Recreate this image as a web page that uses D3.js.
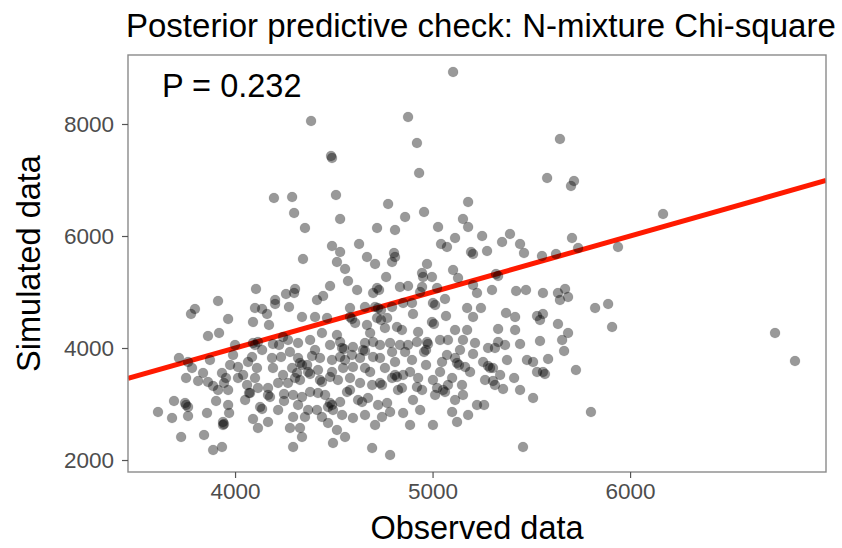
<!DOCTYPE html>
<html>
<head>
<meta charset="utf-8">
<script src="https://d3js.org/d3.v7.min.js"></script>
<style>
  body { margin: 0; background: #fff; }
  text { font-family: "Liberation Sans", Arial, sans-serif; }
</style>
</head>
<body>
<div id="chart"></div>
<script>

// [observed, simulated] chi-square per posterior draw
var points = [
  [5104,8929],[4385,8054],[4876,8125],[4486,7429],[4491,7393],[4921,7661],[4932,7125],[4511,6732],[5645,7732],[5580,7036],
  [5716,6982],[5701,6893],[4197,6679],[4289,6696],[4299,6411],[4354,6143],[4344,5589],[4106,5054],[3914,4839],[3797,4696],
  [3777,4607],[3965,4518],[4101,4714],[4137,4696],[4162,4607],[4203,4857],[4203,4786],[4258,4964],[4304,5054],[4299,4982],
  [4273,4732],[4091,4464],[4172,4411],[4339,4554],[4775,6571],[5180,6607],[4532,6304],[4861,6339],[4957,6429],[4719,6143],
  [4810,6107],[5028,6161],[5154,6304],[5180,6161],[4491,5821],[4532,5714],[4628,5857],[4516,5536],[4557,5411],[4668,5625],
  [4709,5500],[4805,5696],[4810,5625],[4795,5536],[5043,5857],[5073,5804],[5114,5964],[5195,5714],[4972,5500],[5104,5393],
  [4947,5339],[4952,5268],[4997,5268],[5129,5250],[4765,5268],[4572,5196],[4481,5107],[4446,4929],[4415,4857],[4618,5036],
  [4719,5071],[4699,4982],[4835,5089],[4876,5107],[4947,5089],[5023,5071],[4937,5000],[5205,5125],[5225,4982],[4658,4732],
  [4709,4732],[4724,4714],[4795,4732],[4851,4804],[4896,4804],[5002,4804],[5063,4875],[4582,4714],[4405,4554],[4466,4536],
  [4582,4554],[4719,4536],[4770,4536],[4901,4607],[4997,4464],[5068,4571],[5175,4714],[5205,4554],[4608,4446],[4668,4411],
  [4820,4375],[5251,6000],[5392,6036],[5352,5893],[5443,5857],[5463,5696],[5276,5732],[5554,5643],[5625,5679],[5706,5964],
  [5737,5786],[5939,5804],[5321,5321],[5301,5036],[5423,5018],[5473,5036],[5559,4982],[5635,4982],[5671,5054],[5686,4911],
  [5645,4857],[5823,4714],[5889,4786],[5245,4714],[5372,4625],[5418,4554],[5529,4571],[5559,4607],[5544,4500],[5635,4429],
  [5909,4375],[5332,4339],[5418,4321],[6167,6393],[6734,4268],[6835,3768],[3863,4214],[3919,4268],[4091,4089],[4116,4107],
  [4243,4196],[4268,4143],[4319,4089],[4223,4054],[4192,4071],[3716,3821],[3762,3750],[3782,3643],[3752,3464],[3838,3554],
  [3813,3411],[3863,3393],[3889,3321],[3914,3250],[3934,3554],[3954,3464],[3944,3375],[3965,3250],[3990,3875],[4015,3661],
  [4015,3464],[4041,3518],[4061,3339],[4071,3196],[4066,3750],[4101,3464],[4111,3643],[4086,3839],[4167,3286],[4167,3161],
  [4187,3821],[4192,3643],[4233,3839],[4243,3518],[4268,3375],[4248,3179],[4289,3643],[4319,3821],[4314,3554],[4329,3429],
  [4339,3125],[3691,3054],[3752,2982],[3610,2857],[3681,2750],[3762,2786],[3858,2839],[3904,3054],[3965,2982],[3970,2839],
  [3939,2679],[3939,2625],[3727,2411],[3843,2446],[3889,2179],[3934,2232],[4076,3196],[4127,2946],[4091,2732],[4116,2571],
  [4167,2679],[4177,3125],[4218,2893],[4248,3054],[4294,2768],[4278,2571],[4329,2571],[4294,2232],[4319,2982],[4304,3464],
  [4294,3161],[4759,4357],[4845,4321],[4927,4286],[4405,3964],[4481,4054],[4532,4107],[4542,4000],[4532,3839],[4597,4018],
  [4658,4089],[4648,3964],[4699,4107],[4734,4054],[4699,3839],[4633,3821],[4785,4089],[4835,4054],[4876,4054],[4921,4107],
  [4972,4107],[4967,3964],[5038,4143],[5078,4143],[5154,4143],[5215,4089],[5205,3893],[4430,3821],[4491,3786],[4365,3696],
  [4329,3732],[4370,3571],[4420,3607],[4491,3571],[4547,3643],[4597,3661],[4658,3643],[4734,3821],[4810,3750],[4896,3786],
  [4967,3696],[5048,3750],[5114,3821],[5124,3732],[5165,3661],[4430,3429],[4481,3482],[4521,3429],[4582,3464],[4633,3375],
  [4684,3571],[4734,3375],[4795,3464],[4810,3518],[4851,3518],[4886,3571],[4921,3304],[4947,3250],[5002,3429],[5023,3286],
  [5053,3250],[5078,3339],[5099,3464],[5013,3161],[4901,3071],[4845,3286],[4380,3214],[4456,3161],[4481,3018],[4471,2946],
  [4532,3036],[4567,3214],[4623,3071],[4673,3107],[4724,2982],[4770,3018],[4785,2857],[4744,2768],[4851,2839],[4370,2893],
  [4354,2768],[4415,2893],[4440,2768],[4496,2893],[4542,2804],[4597,2750],[4471,2661],[4339,2411],[4516,2536],[4557,2411],
  [4496,2304],[4694,2214],[4785,2089],[5002,2625],[5099,2857],[5124,2679],[5180,2804],[5114,3071],[5154,3161],[5225,2982],
  [5443,4071],[5544,4125],[5656,4143],[5686,4268],[5666,3946],[5281,4000],[5316,4000],[5332,4107],[5256,3750],[5281,3679],
  [5306,3643],[5342,3518],[5306,3411],[5316,3339],[5357,3268],[5413,3464],[5478,3786],[5509,3750],[5529,3571],[5559,3571],
  [5585,3804],[5726,3607],[5509,3107],[5261,2982],[5802,2857],[5458,2232],
  [4552,3982],[4658,3946],[4977,4071],[4957,3929],[4339,3696],[4380,3536],[4440,3393],[4744,3339],[4820,3482],[5063,3214],
  [4491,2982],[4643,3036],[5134,3696],[4101,4054],[4137,2911],[3762,2946],[4729,5036],[4739,4679],[4592,4518],[4739,4500],
  [5007,4429],[5013,4768],[5205,5679],[5332,5286],[5291,3643],[5569,3536],[3944,2643],[3747,3018],[4390,3857],[4592,3875],
  [4759,3643],[4825,3250],[4694,3339],[4582,3250],[4420,3196],[4557,3786],[4861,3929],[4795,3929],[5139,3964],[5073,3875],
  [5038,3571],[4927,3464],[5149,3339],[5190,3571],[4380,4143],[4440,4268],[4516,4232],[4684,4268],[5114,4321],[5175,4321],
  [4278,3929],[4137,3964],[4000,4054],[4218,3375],[4116,3286],[4051,3071],[3975,3696],[3873,3786],[4658,2804],[4709,2625],
  [4886,2625],[4937,2893],[5266,3429],[5377,3786],[5443,3250],[5367,4054]
];

var xTicks = [4000, 5000, 6000];
var yTicks = [2000, 4000, 6000, 8000];
var pLabel = "P = 0.232";

// set the dimensions and margins of the graph
var margin = {top: 55, right: 16, bottom: 76, left: 128},
    width = 842 - margin.left - margin.right,
    height = 548 - margin.top - margin.bottom;

// set the ranges
var x = d3.scaleLinear().domain([3458, 6992]).range([0, width]);
var y = d3.scaleLinear().domain([1786, 9232]).range([height, 0]);

var svg = d3.select("#chart").append("svg")
    .attr("width", width + margin.left + margin.right)
    .attr("height", height + margin.top + margin.bottom)
    .style("display", "block")
    .style("background", "#fff")
  .append("g")
    .attr("transform", "translate(" + margin.left + "," + margin.top + ")");

svg.append("clipPath")
    .attr("id", "panel-clip")
  .append("rect")
    .attr("width", width)
    .attr("height", height);

// 1:1 reference line (observed = simulated)
var lineEnds = x.domain();
svg.append("line")
    .attr("clip-path", "url(#panel-clip)")
    .attr("x1", x(lineEnds[0]))
    .attr("y1", y(lineEnds[0]))
    .attr("x2", x(lineEnds[1]))
    .attr("y2", y(lineEnds[1]))
    .style("stroke", "#ff1a00")
    .style("stroke-width", 5);

// the points
svg.append("g")
    .attr("clip-path", "url(#panel-clip)")
  .selectAll("circle")
    .data(points)
  .enter().append("circle")
    .attr("cx", function(d) { return x(d[0]); })
    .attr("cy", function(d) { return y(d[1]); })
    .attr("r", 5)
    .style("fill", "#000")
    .style("fill-opacity", 0.4)
    .style("stroke", "#000")
    .style("stroke-opacity", 0.12)
    .style("stroke-width", 0.8);

// panel border
svg.append("rect")
    .attr("width", width)
    .attr("height", height)
    .style("fill", "none")
    .style("stroke", "#8a8a8a")
    .style("stroke-width", 1.4);

// Add the X Axis
var xAxis = svg.append("g")
    .attr("transform", "translate(0," + height + ")")
    .call(d3.axisBottom(x).tickValues(xTicks).tickFormat(d3.format("d"))
      .tickSize(6).tickPadding(5).tickSizeOuter(0));

// Add the Y Axis
var yAxis = svg.append("g")
    .call(d3.axisLeft(y).tickValues(yTicks).tickFormat(d3.format("d"))
      .tickSize(6).tickPadding(8).tickSizeOuter(0));

[xAxis, yAxis].forEach(function(ax) {
  ax.select(".domain").remove();
  ax.selectAll(".tick line").style("stroke", "#555").style("stroke-width", 1.2);
  ax.selectAll(".tick text")
      .style("font-family", "Liberation Sans, Arial, sans-serif")
      .style("font-size", "22.5px")
      .style("fill", "#4d4d4d");
});

// P value label
svg.append("text")
    .attr("x", 34)
    .attr("y", 42)
    .style("font-size", "32.5px")
    .style("fill", "#000")
    .text(pLabel);

// title
svg.append("text")
    .attr("x", -2)
    .attr("y", -18)
    .style("font-size", "33px")
    .style("fill", "#000")
    .text("Posterior predictive check: N-mixture Chi-square");

// x axis label
svg.append("text")
    .attr("x", width / 2)
    .attr("y", height + 67)
    .attr("text-anchor", "middle")
    .style("font-size", "32.5px")
    .style("fill", "#000")
    .text("Observed data");

// y axis label
svg.append("text")
    .attr("transform", "rotate(-90)")
    .attr("x", -height / 2)
    .attr("y", -88)
    .attr("text-anchor", "middle")
    .style("font-size", "32.5px")
    .style("fill", "#000")
    .text("Simulated data");

</script>
</body>
</html>
